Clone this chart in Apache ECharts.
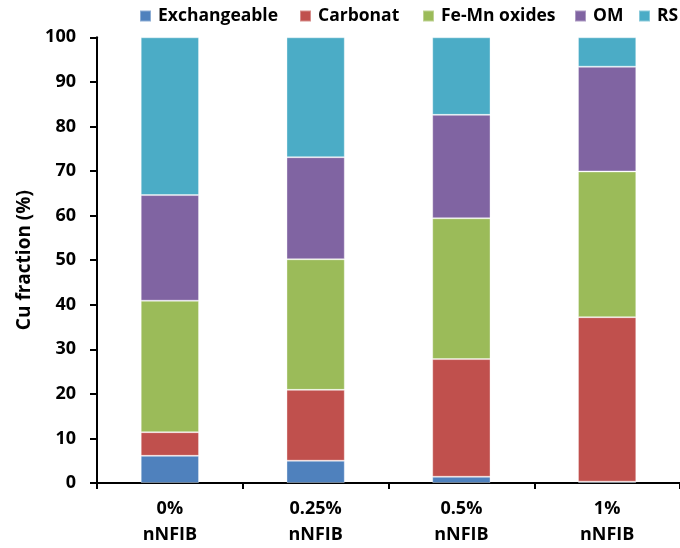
<!DOCTYPE html>
<html>
<head>
<meta charset="utf-8">
<script src="https://cdn.jsdelivr.net/npm/echarts@6/dist/echarts.min.js"></script>
<style>
html,body{margin:0;padding:0;background:#fff;}
#chart{width:680px;height:548px;}
</style>
</head>
<body>
<div id="chart"></div>
<script>
var categories = ['0%\nnNFIB', '0.25%\nnNFIB', '0.5%\nnNFIB', '1%\nnNFIB'];
var seriesNames = ['Exchangeable', 'Carbonat', 'Fe-Mn oxides', 'OM', 'RS'];
var exchangeable = [6.1, 5.0, 1.4, 0.3];
var carbonat = [5.3, 15.9, 26.4, 36.9];
var feMnOxides = [29.5, 29.3, 31.6, 32.7];
var om = [23.7, 22.9, 23.2, 23.5];
var rs = [35.4, 26.9, 17.4, 6.6];
var yTicks = [0, 10, 20, 30, 40, 50, 60, 70, 80, 90, 100];

var colors = ['#4F81BD', '#C0504D', '#9BBB59', '#8064A2', '#4BACC6'];
var values = [exchangeable, carbonat, feMnOxides, om, rs];
var FONT = '"Open Sans", sans-serif';

var legendLefts = [139, 299, 422, 574, 638];
var legends = seriesNames.map(function (n, i) {
  return {
    data: [n], left: legendLefts[i], top: 7,
    itemWidth: 11, itemHeight: 11, itemGap: 0,
    icon: 'rect',
    textStyle: {fontFamily: FONT, fontWeight: 'bold', fontSize: 17.5, color: '#000', padding: [0, 0, 0, 2]},
    padding: 0
  };
});

var chart = echarts.init(document.getElementById('chart'));
chart.setOption({
  animation: false,
  color: colors,
  legend: legends,
  grid: {left: 97, top: 37.3, bottom: 64, right: -7.5, containLabel: false},
  xAxis: {
    type: 'category', data: categories,
    axisLine: {lineStyle: {color: '#000', width: 2}},
    axisTick: {show: true, length: 6, lineStyle: {color: '#000', width: 2}},
    axisLabel: {fontFamily: FONT, fontWeight: 'bold', fontSize: 18, color: '#000', margin: 13, lineHeight: 26}
  },
  yAxis: {
    type: 'value', min: yTicks[0], max: yTicks[yTicks.length - 1], interval: 10,
    name: 'Cu fraction (%)', nameLocation: 'middle', nameGap: 62,
    nameTextStyle: {fontFamily: FONT, fontSize: 19, fontWeight: 'bold', color: '#000'},
    splitLine: {show: false},
    axisLine: {show: true, lineStyle: {color: '#000', width: 2}},
    axisTick: {show: true, length: 7, lineStyle: {color: '#000', width: 2}},
    axisLabel: {fontFamily: FONT, fontWeight: 'bold', fontSize: 18, color: '#000', margin: 21}
  },
  series: seriesNames.map(function (n, i) {
    return {
      name: n, type: 'bar', stack: 'total', barWidth: '40%',
      data: values[i],
      itemStyle: {color: colors[i], borderColor: 'rgba(255,255,255,0.35)', borderWidth: 1}
    };
  })
});
</script>
</body>
</html>
